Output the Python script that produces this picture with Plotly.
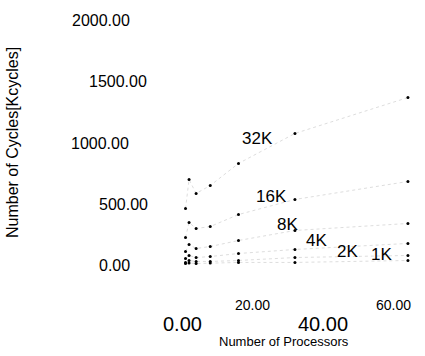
import plotly.graph_objects as go

# ---- data ----
processors = [1, 2, 4, 8, 16, 32, 64]
series_names = ["32K", "16K", "8K", "4K", "2K", "1K"]
cycles_32k = [465, 702, 588, 653, 833, 1078, 1371]
cycles_16k = [229, 351, 302, 318, 416, 539, 686]
cycles_8k = [114, 171, 139, 155, 204, 286, 343]
cycles_4k = [57, 82, 65, 73, 98, 131, 180]
cycles_2k = [25, 41, 33, 33, 41, 65, 82]
cycles_1k = [16, 20, 16, 20, 25, 25, 41]
y_tick_vals = [2000, 1500, 1000, 500, 0]
y_tick_text = ["2000.00", "1500.00", "1000.00", "500.00", "0.00"]
x_tick_vals = [0, 20, 40, 60]
x_tick_text = ["0.00", "20.00", "40.00", "60.00"]
# label anchor points for the series names (data units)
label_x = [21.5, 25.4, 30.0, 38.2, 46.9, 56.4]
label_y = [1037, 567, 331, 208, 114, 86]

all_series = [cycles_32k, cycles_16k, cycles_8k, cycles_4k, cycles_2k, cycles_1k]

W, H = 425, 356
ML, MR, MT, MB = 170, 5, 10, 56
PW, PH = W - ML - MR, H - MT - MB


def pxx(px):
    return (px - ML) / PW


def pxy(py):
    return (MT + PH - py) / PH


FONT = "Liberation Sans, Arial, sans-serif"

fig = go.Figure()
for name, vals in zip(series_names, all_series):
    fig.add_trace(go.Scatter(
        x=processors, y=vals, name=name, mode="lines+markers",
        line=dict(color="#d4d4d4", width=0.8, dash="dot"),
        marker=dict(color="black", size=3),
        showlegend=False,
    ))

ann = []
for name, lx, ly in zip(series_names, label_x, label_y):
    ann.append(dict(x=lx, y=ly, xref="x", yref="y", text=name, showarrow=False,
                    font=dict(size=17, color="black", family=FONT),
                    xanchor="center", yanchor="middle"))

# y tick labels (staggered as in the reference)
y_right_px = [132, 149, 131, 150, 132]
for v, t, rx in zip(y_tick_vals, y_tick_text, y_right_px):
    ann.append(dict(x=pxx(rx), y=v, xref="paper", yref="y", text=t, showarrow=False,
                    font=dict(size=16, color="black", family=FONT),
                    xanchor="right", yanchor="middle"))

# x tick labels (alternating size / height as in the reference)
x_lab_py = [324, 305, 324, 305]
x_lab_size = [20, 14, 20, 14]
for v, t, py, s in zip(x_tick_vals, x_tick_text, x_lab_py, x_lab_size):
    ann.append(dict(x=v, y=pxy(py), xref="x", yref="paper", text=t, showarrow=False,
                    font=dict(size=s, color="black", family=FONT),
                    xanchor="center", yanchor="middle"))

ann.append(dict(x=pxx(283.5), y=pxy(341), xref="paper", yref="paper",
                text="Number of Processors", showarrow=False,
                font=dict(size=13, color="black", family=FONT),
                xanchor="center", yanchor="middle"))
ann.append(dict(x=pxx(12), y=pxy(143), xref="paper", yref="paper",
                text="Number of Cycles[Kcycles]", showarrow=False, textangle=-90,
                font=dict(size=16, color="black", family=FONT),
                xanchor="center", yanchor="middle"))

fig.update_layout(
    width=W, height=H,
    margin=dict(l=ML, r=MR, t=MT, b=MB),
    paper_bgcolor="white", plot_bgcolor="white",
    annotations=ann,
    xaxis=dict(range=[-3.40, 67.42], showticklabels=False, showgrid=False,
               zeroline=False, showline=False, ticks=""),
    yaxis=dict(range=[-281.6, 2085.7], showticklabels=False, showgrid=False,
               zeroline=False, showline=False, ticks=""),
    font=dict(family=FONT),
)

fig.write_html("out.html", config={"displayModeBar": False},
               post_script="document.body.style.margin='0';document.body.style.overflow='hidden';")
